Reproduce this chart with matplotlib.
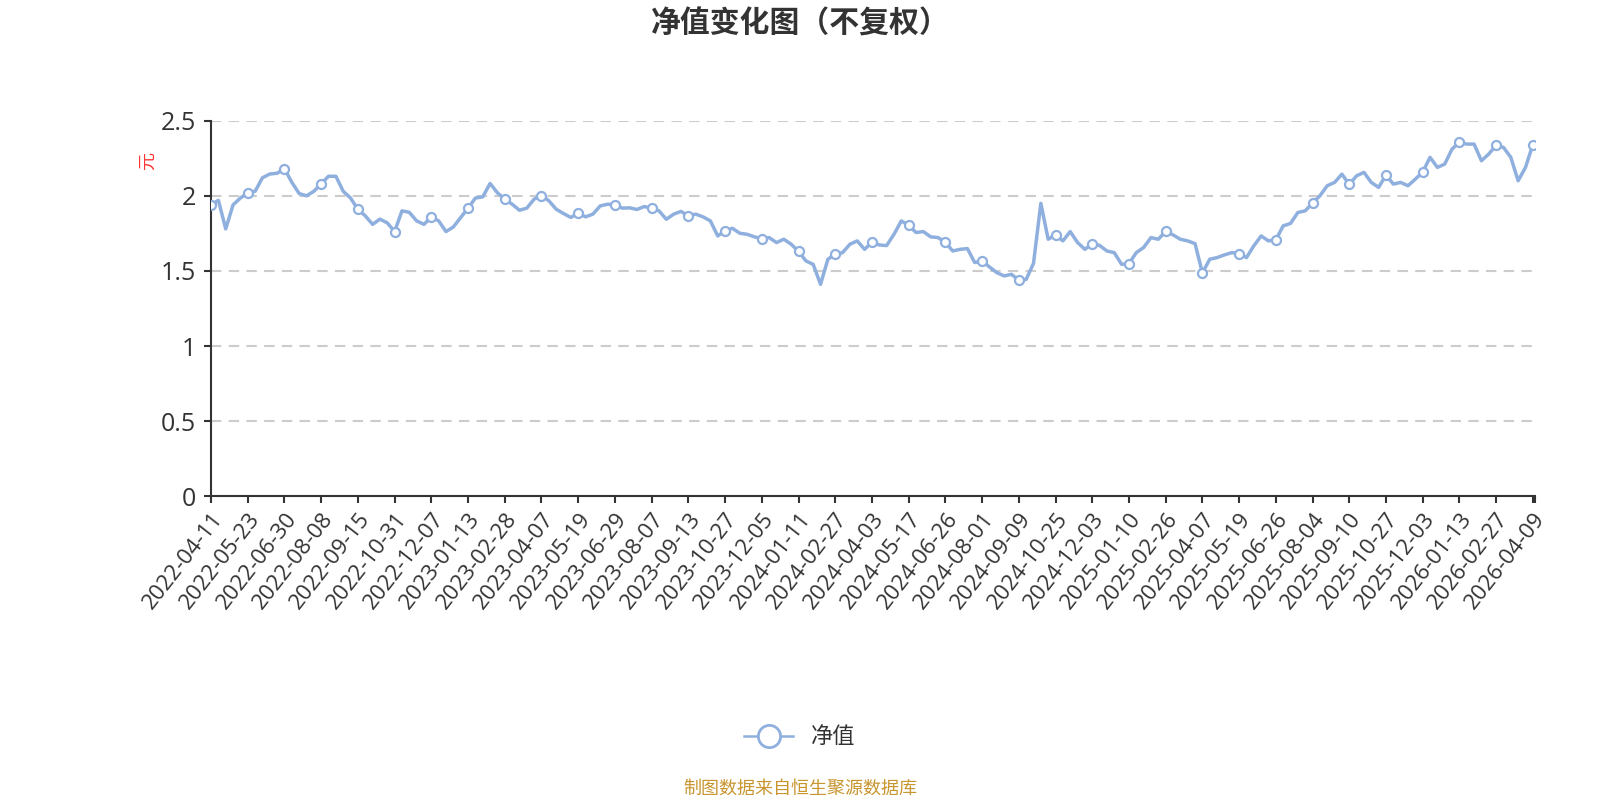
import matplotlib
matplotlib.use("Agg")
import matplotlib.pyplot as plt
from matplotlib.lines import Line2D
import numpy as np

plt.rcParams["font.family"] = ["Noto Sans CJK SC", "DejaVu Sans"]

# one sample every 5 trading days, a date label every 25
step = 5
label_every = 25

tick_labels = [
    "2022-04-11", "2022-05-23", "2022-06-30", "2022-08-08", "2022-09-15",
    "2022-10-31", "2022-12-07", "2023-01-13", "2023-02-28", "2023-04-07",
    "2023-05-19", "2023-06-29", "2023-08-07", "2023-09-13", "2023-10-27",
    "2023-12-05", "2024-01-11", "2024-02-27", "2024-04-03", "2024-05-17",
    "2024-06-26", "2024-08-01", "2024-09-09", "2024-10-25", "2024-12-03",
    "2025-01-10", "2025-02-26", "2025-04-07", "2025-05-19", "2025-06-26",
    "2025-08-04", "2025-09-10", "2025-10-27", "2025-12-03", "2026-01-13",
    "2026-02-27", "2026-04-09",
]

nav = [
    1.94, 1.97, 1.78, 1.94, 1.985,
    2.02, 2.03, 2.12, 2.145, 2.15,
    2.18, 2.09, 2.015, 2.00, 2.03,
    2.08, 2.13, 2.13, 2.03, 1.985,
    1.91, 1.867, 1.81, 1.845, 1.82,
    1.762, 1.90, 1.89, 1.833, 1.81,
    1.86, 1.833, 1.762, 1.793, 1.856,
    1.918, 1.985, 1.993, 2.082, 2.02,
    1.978, 1.944, 1.904, 1.918, 1.978,
    2.002, 1.967, 1.911, 1.882, 1.856,
    1.884, 1.86, 1.878, 1.933, 1.944,
    1.942, 1.918, 1.92, 1.909, 1.929,
    1.916, 1.90, 1.844, 1.878, 1.896,
    1.867, 1.878, 1.86, 1.833, 1.733,
    1.767, 1.784, 1.751, 1.744, 1.727,
    1.713, 1.722, 1.689, 1.711, 1.678,
    1.631, 1.567, 1.544, 1.411, 1.578,
    1.611, 1.622, 1.678, 1.70, 1.644,
    1.691, 1.673, 1.669, 1.744, 1.833,
    1.804, 1.756, 1.762, 1.727, 1.722,
    1.691, 1.633, 1.644, 1.649, 1.556,
    1.567, 1.527, 1.489, 1.467, 1.478,
    1.438, 1.444, 1.55, 1.95, 1.711,
    1.74, 1.70, 1.762, 1.689, 1.644,
    1.682, 1.67, 1.633, 1.622, 1.544,
    1.549, 1.622, 1.656, 1.722, 1.711,
    1.764, 1.74, 1.711, 1.70, 1.682,
    1.487, 1.578, 1.589, 1.607, 1.622,
    1.616, 1.589, 1.667, 1.733, 1.70,
    1.707, 1.80, 1.816, 1.889, 1.90,
    1.951, 2.00, 2.067, 2.089, 2.144,
    2.076, 2.133, 2.156, 2.089, 2.056,
    2.138, 2.078, 2.089, 2.067, 2.111,
    2.158, 2.256, 2.189, 2.211, 2.311,
    2.356, 2.344, 2.344, 2.233, 2.278,
    2.336, 2.322, 2.256, 2.10, 2.189,
    2.340,
]

line_color = "#8fb0de"
text_color = "#333333"
tick_font = ["Open Sans", "DejaVu Sans"]

x = np.arange(len(nav)) * step
fig = plt.figure(figsize=(16, 8), dpi=100)
ax = fig.add_axes([0.1319, 0.3794, 0.8275, 0.4698])

ax.plot(x, nav, color=line_color, lw=2.5, zorder=3,
        marker="o", markevery=list(range(0, len(nav), label_every // step)),
        ms=6.5, mfc="white", mec=line_color, mew=1.6)

ax.set_xlim(0, x[-1] + 1.5)
ax.set_ylim(0, 2.5)

yt = [0, 0.5, 1, 1.5, 2, 2.5]
ax.set_yticks(yt, ["0", "0.5", "1", "1.5", "2", "2.5"],
              family=tick_font, fontsize=18)
for y in yt[1:]:
    ax.axhline(y, color="#cccccc", lw=1.5, ls=(0, (5, 3.5)), zorder=1)

ax.set_xticks(np.arange(len(tick_labels)) * label_every, tick_labels,
              rotation=52, ha="right", va="top", rotation_mode="anchor",
              family=tick_font, fontsize=16)
ax.set_xticks([x[-1] + 1.5], minor=True)

for s in ["top", "right"]:
    ax.spines[s].set_visible(False)
for s in ["left", "bottom"]:
    ax.spines[s].set_color(text_color)
    ax.spines[s].set_linewidth(1.5)
ax.tick_params(which="both", length=5, width=1.5, color=text_color,
               labelcolor=text_color)
ax.tick_params(axis="x", pad=4)
ax.tick_params(axis="y", pad=6)

fig.text(148 / 1600, 1 - 161 / 800, "元", color="#ff3333", fontsize=13,
         rotation=90, ha="center", va="center")

fig.text(0.5, 0.970, "净值变化图（不复权）", fontsize=21.5, fontweight="bold",
         color=text_color, ha="center", va="center")

handle = Line2D([], [], color=line_color, lw=1.8, marker="o", ms=16,
                mfc="white", mec=line_color, mew=2)
fig.legend([handle], ["净值"], loc="center", bbox_to_anchor=(0.5, 0.079),
           frameon=False, fontsize=16, handlelength=2.2, labelcolor=text_color)

fig.text(0.5, 0.014, "制图数据来自恒生聚源数据库", fontsize=13,
         color="#c8952f", ha="center", va="center")

fig.savefig("out.png", dpi=100)
